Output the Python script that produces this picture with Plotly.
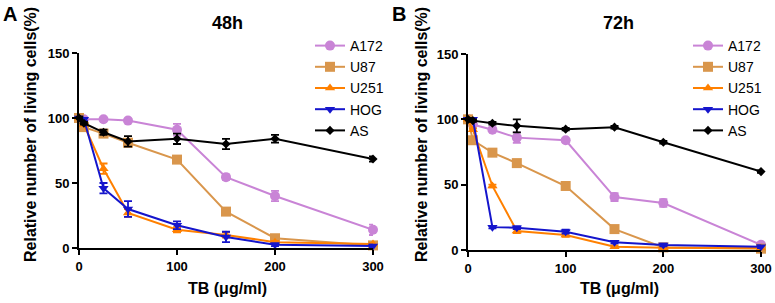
import plotly.graph_objects as go

dose = [0, 5, 25, 50, 100, 150, 200, 300]
series = ["A172", "U87", "U251", "HOG", "AS"]

# 48h
a172_48 = [100, 99, 99, 98, 91, 54.5, 40, 14]
a172_48_err = [1, 1, 1, 1, 4.5, 2, 4, 4]
u87_48 = [100, 93, 88, 81, 68, 28, 7.5, 2]
u87_48_err = [1, 1, 2, 2, 1.5, 1, 1, 1]
u251_48 = [100, 95, 61, 27, 14, 10, 4.5, 3]
u251_48_err = [1, 1, 4, 3, 2, 2, 1, 1]
hog_48 = [100, 99, 46, 30, 17.5, 8.5, 2.5, 1.5]
hog_48_err = [1, 1, 4, 6, 3, 4, 1, 1]
as_48 = [100, 96, 89, 82, 84, 80, 84, 68.5]
as_48_err = [1, 1, 2, 4, 4, 4, 3, 2]

# 72h
a172_72 = [100, 96, 92, 86, 84, 40.5, 36, 4]
a172_72_err = [1, 1, 1, 4, 1, 3, 3, 1]
u87_72 = [100, 84, 74.5, 66.5, 49, 16, 2, 1]
u87_72_err = [1, 1, 1, 1, 1, 1, 1, 1]
u251_72 = [100, 92, 49, 14.5, 11.5, 2.5, 1.8, 1.5]
u251_72_err = [1, 1, 1, 1.5, 1.5, 1, 1, 1]
hog_72 = [100, 100, 17.5, 17, 14, 6, 3.8, 2.5]
hog_72_err = [1, 1, 1, 1, 1.5, 1, 1, 1]
as_72 = [100, 99, 97, 95, 92.5, 94, 82.5, 60]
as_72_err = [1, 1, 1, 5, 1, 1, 1, 1]

x_ticks = [0, 100, 200, 300]
y_ticks = [0, 50, 100, 150]

colors = ["#C984D6", "#D9964C", "#FF8000", "#1515CC", "#000000"]
symbols = ["circle", "square", "triangle-up", "triangle-down", "diamond"]
sizes = [10, 10, 9, 9, 7]

data48 = [(a172_48, a172_48_err), (u87_48, u87_48_err), (u251_48, u251_48_err),
          (hog_48, hog_48_err), (as_48, as_48_err)]
data72 = [(a172_72, a172_72_err), (u87_72, u87_72_err), (u251_72, u251_72_err),
          (hog_72, hog_72_err), (as_72, as_72_err)]

FONT = "Liberation Sans, Arial, sans-serif"
W, H = 775, 303

fig = go.Figure()
for panel, data in enumerate([data48, data72]):
    xa = "x" if panel == 0 else "x2"
    ya = "y" if panel == 0 else "y2"
    lg = "legend" if panel == 0 else "legend2"
    for i, (vals, errs) in enumerate(data):
        fig.add_trace(go.Scatter(
            x=dose, y=vals, name=series[i], mode="lines+markers",
            xaxis=xa, yaxis=ya, legend=lg, cliponaxis=False,
            line=dict(color=colors[i], width=2),
            marker=dict(symbol=symbols[i], size=sizes[i], color=colors[i]),
            error_y=dict(type="data", array=errs, visible=True,
                         color=colors[i], thickness=1.8, width=4),
        ))

def px_x(p):
    return p / W

def px_y(p):
    return (H - p) / H

axis_common = dict(
    showline=True, linecolor="black", linewidth=2, ticks="outside",
    ticklen=5, tickwidth=2, tickcolor="black", showgrid=False, zeroline=False,
    automargin=False,
    tickfont=dict(family=FONT, size=13, color="black", weight="bold"),
)

fig.update_layout(
    width=W, height=H, margin=dict(l=0, r=0, t=0, b=0, autoexpand=False),
    paper_bgcolor="white", plot_bgcolor="white",
    font=dict(family=FONT, color="black"),
    xaxis=dict(domain=[px_x(79), px_x(373)], range=[0, 300], tickvals=x_ticks,
               anchor="y", **axis_common),
    yaxis=dict(domain=[px_y(248), px_y(53)], range=[0, 150], tickvals=y_ticks,
               anchor="x", **axis_common),
    xaxis2=dict(domain=[px_x(468), px_x(761)], range=[0, 300], tickvals=x_ticks,
                anchor="y2", **axis_common),
    yaxis2=dict(domain=[px_y(250), px_y(54)], range=[0, 150], tickvals=y_ticks,
                anchor="x2", **axis_common),
    legend=dict(x=px_x(310), y=px_y(30), xanchor="left", yanchor="top",
                bgcolor="rgba(0,0,0,0)", font=dict(family=FONT, size=14, color="black")),
    legend2=dict(x=px_x(688), y=px_y(30), xanchor="left", yanchor="top",
                 bgcolor="rgba(0,0,0,0)", font=dict(family=FONT, size=14, color="black")),
    showlegend=True,
)

ann = []
def add_text(text, x, y, size, angle=0):
    ann.append(dict(text=text, x=px_x(x), y=px_y(y), xref="paper", yref="paper",
                    showarrow=False, textangle=angle, xanchor="center", yanchor="middle",
                    font=dict(family=FONT, size=size, color="black", weight="bold")))

add_text("A", 10, 14, 20)
add_text("B", 399, 14, 20)
add_text("48h", 227, 23, 18)
add_text("72h", 618, 23, 18)
add_text("Relative number of living cells(%)", 31, 135, 16, -90)
add_text("Relative number of living cells(%)", 422, 135, 16, -90)
add_text("TB (μg/ml)", 227, 288, 16)
add_text("TB (μg/ml)", 619, 288, 16)
fig.update_layout(annotations=ann)

fig.write_html(
    "out.html",
    config={"displayModeBar": False},
    post_script="document.body.style.margin='0px';document.body.style.overflow='hidden';",
)
